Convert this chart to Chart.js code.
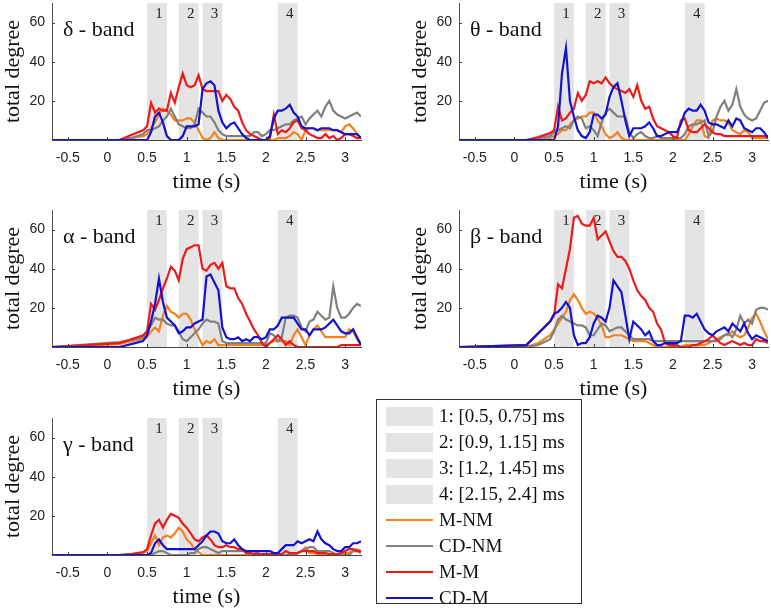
<!DOCTYPE html>
<html>
<head>
<meta charset="utf-8">
<script src="https://cdn.jsdelivr.net/npm/chart.js@4.4.0/dist/chart.umd.min.js"></script>
<style>
  body { margin: 0; background: #fff; width: 771px; height: 616px; position: relative; overflow: hidden; }
  canvas { position: absolute; }
  #legend { position: absolute; left: 376px; top: 399px; width: 206px; height: 205px; border: 1px solid #333;
            box-sizing: border-box; font-family: 'Liberation Serif', 'Times New Roman', serif; font-size: 19px; color: #111; }
  .row { position: absolute; left: 9px; height: 26px; display: flex; align-items: center; white-space: nowrap; }
  .sw { width: 47px; margin-right: 6px; }
</style>
</head>
<body>
<canvas id="c0" width="365" height="195" style="left:0px;top:0px"></canvas>
<canvas id="c1" width="364" height="195" style="left:407px;top:0px"></canvas>
<canvas id="c2" width="365" height="195" style="left:0px;top:207px"></canvas>
<canvas id="c3" width="364" height="195" style="left:407px;top:207px"></canvas>
<canvas id="c4" width="365" height="195" style="left:0px;top:415px"></canvas>
<div id="legend"></div>
<script>
// time axis (s)
const times = [-0.7, 0.15, 0.3, 0.45,
  0.5, 0.55, 0.6, 0.65, 0.7, 0.75, 0.8, 0.85, 0.9, 0.95,
  1.0, 1.05, 1.1, 1.15, 1.2, 1.25, 1.3, 1.35, 1.4, 1.45,
  1.5, 1.55, 1.6, 1.65, 1.7, 1.75, 1.8, 1.85, 1.9, 1.95,
  2.0, 2.05, 2.1, 2.15, 2.2, 2.25, 2.3, 2.35, 2.4, 2.45,
  2.5, 2.55, 2.6, 2.65, 2.7, 2.75, 2.8, 2.85, 2.9, 2.95,
  3.0, 3.05, 3.1, 3.15, 3.2];

const xTicks = [-0.5, 0, 0.5, 1, 1.5, 2, 2.5, 3];
const yTicks = [20, 40, 60];

const bandStart = [0.5, 0.9, 1.2, 2.15];
const bandEnd = [0.75, 1.15, 1.45, 2.4];
const bandLabels = ['1', '2', '3', '4'];

const seriesNames = ['M-NM', 'CD-NM', 'M-M', 'CD-M'];
const seriesColors = ['#f5821f', '#808080', '#ee1a1a', '#1212d0'];
const panelNames = ['δ - band', 'θ - band', 'α - band', 'β - band', 'γ - band'];

// delta
const deltaMNM = [0, 0, 1, 2,
  3, 6, 9, 13, 16, 15, 13, 10, 10, 10,
  11, 11, 9, 5, 1, 0, 1, 4, 1, 0,
  0, 0, 0, 0, 0, 0, 0, 0, 0, 0,
  0, 0, 0, 1, 1, 1, 2, 4, 3, 0,
  5, 6, 6, 5, 5, 5, 5, 5, 5, 4,
  7, 8, 6, 3, 1];
const deltaCDNM = [0, 0, 1, 3,
  5, 5, 6, 7, 10, 12, 16, 12, 8, 7,
  6, 6, 8, 16, 14, 12, 12, 9, 5, 3,
  2, 2, 2, 2, 2, 2, 2, 4, 4, 2,
  3, 5, 5, 6, 7, 8, 8, 10, 11, 12,
  8, 11, 13, 15, 12, 17, 20, 15, 13, 12,
  11, 12, 13, 14, 12];
const deltaMM = [0, 0, 2.5, 5,
  7, 19, 14, 16, 15, 15, 24, 19, 27, 34,
  28, 27, 28, 33, 26, 25, 25, 25, 25, 20,
  23, 21, 17, 15, 9, 5, 3, 2, 1, 0,
  0, 1, 13, 3, 5, 4, 6, 9, 10, 6,
  5, 3, 2, 1, 1, 3, 1, 2, 0, 1,
  3, 3, 2, 1, 1];
const deltaCDM = [0, 0, 0, 0,
  0, 4, 12, 14, 9, 2, 0, 0, 0, 2,
  7, 7, 7, 8, 26, 29, 30, 28, 15, 9,
  6, 8, 9, 6, 3, 1, 0, 0, 0, 0,
  0, 2, 11, 15, 15, 16, 18, 14, 12, 7,
  6, 6, 6, 5, 6, 6, 6, 5, 5, 4,
  3, 3, 3, 3, 1];

// theta
const thetaMNM = [0, 0, 0, 1,
  2, 3, 5, 5, 8, 10, 11, 12, 12, 14,
  14, 10, 7, 3, 1, 2, 4, 1, 0, 0,
  0, 0, 0, 0, 0, 0, 0, 0, 0, 0,
  0, 0, 0, 0, 3, 7, 10, 10, 2, 1,
  10, 11, 10, 10, 9, 5, 4, 3, 5, 4,
  1, 1, 1, 1, 1];
const thetaCDNM = [0, 0, 1, 2,
  4, 5, 6, 7, 6, 10, 12, 11, 6, 7,
  5, 2, 9, 14, 16, 14, 12, 12, 12, 4,
  1, 3, 4, 2, 1, 1, 2, 1, 1, 1,
  1, 1, 1, 3, 7, 8, 8, 9, 10, 2,
  4, 12, 17, 20, 15, 18, 26, 17, 13, 11,
  10, 11, 15, 19, 20];
const thetaMM = [0, 0, 1.5, 3.5,
  5, 17, 10, 11, 14, 16, 24, 20, 23, 30,
  29, 30, 29, 32, 29, 27, 26, 25, 24, 26,
  22, 28, 20, 16, 17, 11, 7, 6, 5, 4,
  2, 1, 10, 11, 5, 4, 4, 6, 8, 6,
  4, 3, 3, 2, 2, 2, 2, 2, 2, 2,
  2, 2, 2, 2, 2];
const thetaCDM = [0, 0, 0, 0,
  0, 7, 34, 47, 20, 12, 5, 2, 1, 4,
  13, 13, 11, 13, 22, 27, 29, 20, 10, 2,
  6, 6, 6, 7, 9, 6, 2, 2, 3, 4,
  4, 4, 8, 14, 16, 15, 15, 18, 15, 9,
  8, 8, 7, 6, 10, 7, 11, 10, 6, 5,
  4, 6, 6, 4, 1];

// alpha
const alphaMNM = [0, 1.5, 3, 4,
  5, 8, 10, 8, 16, 21, 18, 17, 15, 17,
  17, 14, 9, 5, 1, 3, 2, 4, 1, 1,
  1, 1, 1, 1, 1, 1, 1, 1, 1, 1,
  1, 2, 3, 3, 3, 3, 1, 6, 9, 5,
  1, 6, 9, 11, 8, 5, 5, 5, 5, 5,
  5, 9, 8, 4, 1];
const alphaCDNM = [0, 2.5, 3.5, 5,
  8, 11, 15, 14, 14, 12, 11, 11, 8, 4,
  3, 5, 7, 9, 12, 14, 13, 13, 12, 3,
  2, 2, 2, 2, 2, 2, 2, 2, 2, 2,
  2, 7, 6, 3, 5, 15, 16, 16, 15, 10,
  8, 13, 14, 18, 16, 14, 15, 31, 20, 15,
  15, 17, 20, 22, 21];
const alphaMM = [0, 2, 4, 6,
  8, 22, 19, 24, 30, 35, 41, 39, 34, 45,
  50, 51, 52, 52, 40, 39, 42, 43, 40, 43,
  31, 30, 30, 25, 22, 17, 13, 9, 6, 2,
  0, 2, 4, 6, 4, 1, 3, 1, 0, 0,
  0, 0, 0, 0, 0, 0, 0, 0, 0, 1,
  1, 1, 1, 1, 1];
const alphaCDM = [0, 0, 1.5, 3,
  6, 13, 22, 35, 23, 15, 13, 11, 7, 8,
  10, 10, 12, 13, 14, 36, 37, 33, 29, 10,
  5, 4, 4, 5, 3, 4, 3, 5, 5, 4,
  5, 9, 9, 11, 15, 15, 15, 15, 12, 9,
  9, 6, 9, 9, 9, 10, 12, 14, 11, 8,
  7, 7, 9, 5, 1];

// beta
const betaMNM = [0, 0, 2, 6,
  9, 12, 15, 18, 24, 27, 24, 20, 17, 18,
  17, 15, 11, 5, 5, 6, 6, 6, 5, 4,
  3, 3, 3, 3, 2, 1, 0, 0, 0, 0,
  0, 0, 0, 1, 1, 1, 1, 1, 1, 2,
  3, 4, 5, 6, 6, 8, 6, 5, 6, 10,
  15, 17, 13, 8, 4];
const betaCDNM = [0, 0, 1, 4,
  8, 14, 16, 14, 13, 12, 11, 11, 10, 6,
  6, 9, 12, 11, 8, 9, 10, 10, 8, 6,
  4, 4, 4, 4, 4, 3, 3, 3, 3, 3,
  3, 3, 3, 3, 3, 3, 3, 3, 3, 3,
  3, 3, 4, 6, 7, 5, 9, 16, 12, 14,
  12, 19, 20, 20, 19];
const betaMM = [0, 1, 7, 13,
  16, 32, 30, 40, 50, 66, 67, 63, 62, 62,
  66, 55, 57, 59, 54, 49, 46, 46, 44, 40,
  34, 29, 26, 24, 20, 18, 12, 9, 2, 1,
  1, 1, 0, 0, 0, 1, 1, 2, 3, 4,
  6, 4, 2, 1, 2, 3, 2, 1, 2, 1,
  1, 4, 3, 3, 2];
const betaCDM = [0, 1, 7, 13,
  17, 18, 20, 23, 20, 6, 1, 2, 2, 5,
  12, 16, 15, 13, 20, 34, 31, 28, 16, 4,
  13, 11, 9, 6, 8, 3, 1, 1, 2, 2,
  2, 2, 3, 16, 16, 15, 17, 13, 9, 7,
  6, 8, 9, 10, 8, 12, 10, 8, 12, 7,
  4, 6, 5, 4, 3];

// gamma
const gammaMNM = [0, 0, 0.5, 1,
  2, 6, 10, 5, 9, 10, 9, 11, 14, 12,
  8, 6, 3, 1.5, 0, 0, 0, 0, 0, 0,
  0, 0, 0, 0, 0, 0, 0, 0, 0, 0,
  0, 0, 0, 0, 0, 0, 0.5, 1, 1, 2,
  4, 1, 1, 0.5, 0.5, 0.5, 0.5, 0.5, 0.5, 0.5,
  1, 1, 2, 3, 2];
const gammaCDNM = [0, 0, 0, 0,
  0, 0, 1, 2, 2, 1, 0, 0, 0, 0,
  0, 1, 1, 3, 4, 4, 3, 2, 1, 2,
  2, 2, 2, 2, 2, 2, 2, 2, 1, 0,
  0, 0, 0, 0, 0, 0, 0, 0, 1, 2,
  3, 4, 4, 2, 2, 2, 2, 1, 0, 0,
  0, 0, 2, 2, 1];
const gammaMM = [0, 0, 0.5, 1.5,
  3, 10, 16, 18, 14, 18, 21, 20, 19, 16,
  14, 11, 8, 7, 9, 10, 8, 5, 4, 4,
  5, 4, 4, 3, 3, 1, 1, 0.5, 0.5, 0.5,
  0.5, 0.5, 0.5, 0.5, 0.5, 2, 1, 1, 1, 2,
  2, 2, 2, 1, 1, 1, 0.5, 0.5, 0.5, 1,
  2, 3, 3, 2, 2];
const gammaCDM = [0, 0, 0, 0,
  0, 1, 6, 8, 5, 3, 3, 3, 3, 3,
  3, 3, 3, 5, 7, 10, 12, 12, 11, 7,
  6, 6, 8, 5, 3, 2, 2, 2, 2, 2,
  2, 2, 1, 1, 3, 5, 5, 5, 7, 6,
  7, 8, 7, 12, 8, 6, 5, 3, 2, 2,
  4, 4, 6, 6, 7];

const panelSeries = [
  [deltaMNM, deltaCDNM, deltaMM, deltaCDM],
  [thetaMNM, thetaCDNM, thetaMM, thetaCDM],
  [alphaMNM, alphaCDNM, alphaMM, alphaCDM],
  [betaMNM, betaCDNM, betaMM, betaCDM],
  [gammaMNM, gammaCDNM, gammaMM, gammaCDM]
];

const SERIF = "'Liberation Serif', 'Times New Roman', serif";
const SANS = "'Liberation Sans', Arial, sans-serif";

// grey time windows, window numbers and the band name
const bandPlugin = {
  id: 'bands',
  beforeDatasetsDraw(chart, args, opts) {
    const { ctx, chartArea: a, scales: { x } } = chart;
    ctx.save();
    ctx.fillStyle = '#e4e4e4';
    bandStart.forEach((s, i) => {
      const x0 = x.getPixelForValue(s), x1 = x.getPixelForValue(bandEnd[i]);
      ctx.fillRect(x0, a.top, x1 - x0, a.bottom - a.top);
    });
    ctx.fillStyle = '#222';
    ctx.font = '15px ' + SERIF;
    ctx.textAlign = 'center';
    ctx.textBaseline = 'alphabetic';
    bandStart.forEach((s, i) => {
      const xc = x.getPixelForValue((s + bandEnd[i]) / 2) + 2;
      ctx.fillText(bandLabels[i], xc, a.top + 15);
    });
    ctx.font = '22px ' + SERIF;
    ctx.textAlign = 'left';
    ctx.fillStyle = '#111';
    ctx.fillText(opts.name, a.left + 11, a.top + 33);
    ctx.restore();
  },
  afterDraw(chart) {
    // inward tick marks
    const { ctx, chartArea: a, scales: { x, y } } = chart;
    ctx.save();
    ctx.strokeStyle = '#444';
    ctx.lineWidth = 1;
    ctx.beginPath();
    xTicks.forEach(v => {
      const px = Math.round(x.getPixelForValue(v)) + 0.5;
      ctx.moveTo(px, a.bottom); ctx.lineTo(px, a.bottom - 3);
    });
    yTicks.forEach(v => {
      const py = Math.round(y.getPixelForValue(v)) + 0.5;
      ctx.moveTo(a.left, py); ctx.lineTo(a.left + 3, py);
    });
    ctx.stroke();
    ctx.restore();
  }
};

function makePanel(idx) {
  const canvas = document.getElementById('c' + idx);
  const rightPad = canvas.width - 52 - 309;
  const datasets = panelSeries[idx].map((vals, k) => ({
    label: seriesNames[k],
    data: vals.map((v, i) => ({ x: times[i], y: v })),
    borderColor: seriesColors[k],
    borderWidth: 2.2,
    pointRadius: 0,
    fill: false,
    order: 4 - k
  }));
  new Chart(canvas.getContext('2d'), {
    type: 'line',
    data: { datasets },
    options: {
      responsive: false,
      animation: false,
      layout: { padding: { top: 3, right: rightPad, left: 0, bottom: 0 } },
      plugins: { legend: { display: false }, tooltip: { enabled: false }, bands: { name: panelNames[idx] } },
      scales: {
        x: {
          type: 'linear', min: -0.7, max: 3.2,
          afterBuildTicks: s => { s.ticks = xTicks.map(v => ({ value: v })); },
          afterFit: s => { s.height = 55; s.paddingLeft = 0; s.paddingRight = 0; },
          grid: { display: false, drawTicks: false },
          border: { color: '#444', width: 1 },
          ticks: { padding: 10, autoSkip: false, maxRotation: 0, color: '#222',
                   font: { family: SANS, size: 14 }, callback: v => String(v) },
          title: { display: true, text: 'time (s)', color: '#111', padding: { top: 1, bottom: 0 },
                   font: { family: SERIF, size: 22 } }
        },
        y: {
          min: 0, max: 70,
          afterBuildTicks: s => { s.ticks = yTicks.map(v => ({ value: v })); },
          afterFit: s => { s.width = 52; s.paddingTop = 0; s.paddingBottom = 0; },
          grid: { display: false, drawTicks: false },
          border: { color: '#555', width: 1 },
          ticks: { padding: 7, color: '#222', font: { family: SANS, size: 14 } },
          title: { display: true, text: 'total degree', color: '#111', padding: 0,
                   font: { family: SERIF, size: 22 } }
        }
      }
    },
    plugins: [bandPlugin]
  });
}

for (let i = 0; i < 5; i++) makePanel(i);

// legend box
const legend = document.getElementById('legend');
const rows = [];
bandStart.forEach((s, i) => rows.push({ kind: 'patch', text: bandLabels[i] + ': [' + s + ', ' + bandEnd[i] + '] ms' }));
seriesNames.forEach((n, k) => rows.push({ kind: 'line', color: seriesColors[k], text: n }));
rows.forEach((r, i) => {
  const row = document.createElement('div');
  row.className = 'row';
  row.style.top = (3 + 26 * i) + 'px';
  const sw = document.createElement('div');
  sw.className = 'sw';
  if (r.kind === 'patch') { sw.style.height = '19px'; sw.style.background = '#e4e4e4'; }
  else { sw.style.height = '2px'; sw.style.background = r.color; }
  const tx = document.createElement('span');
  tx.textContent = r.text;
  row.appendChild(sw);
  row.appendChild(tx);
  legend.appendChild(row);
});
</script>
</body>
</html>
